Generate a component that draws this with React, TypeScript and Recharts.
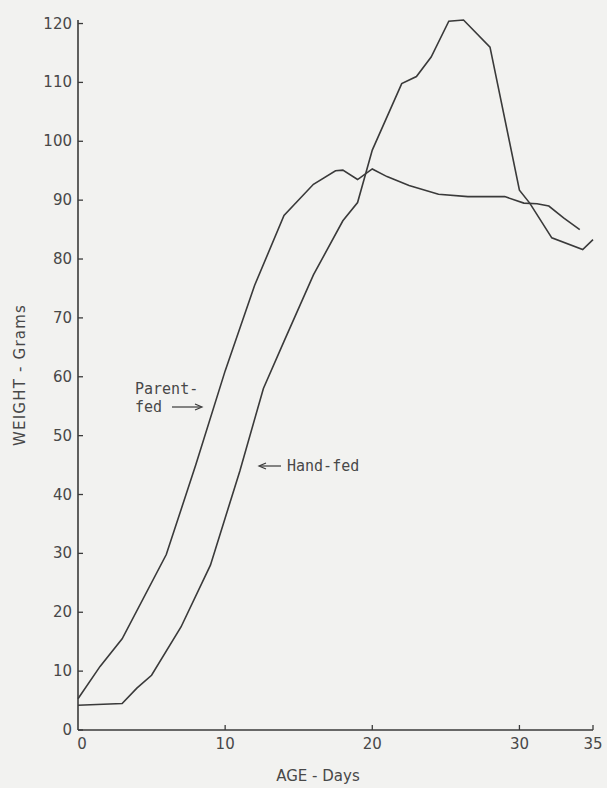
import React from "react";
import { LineChart, Line, XAxis, YAxis, Customized } from "recharts";

const parentDays = [0, 1.5, 3, 6, 8, 10, 12, 14, 16, 17.5, 18, 19, 20, 21, 22.5, 24.5, 26.5, 29, 30.3, 31.2, 32, 33, 34.1];
const parentWeights = [5.3, 10.8, 15.5, 29.8, 45, 61, 75.5, 87.4, 92.7, 95, 95.1, 93.5, 95.3, 94, 92.5, 91, 90.6, 90.6, 89.5, 89.4, 89, 87, 85];

const handDays = [0, 3, 4, 5, 7, 9, 11, 12.6, 14, 16, 18, 19, 20, 22, 23, 24, 25.2, 26.2, 28, 30, 30.7, 32.2, 34.3, 35];
const handWeights = [4.2, 4.5, 7.1, 9.3, 17.5, 28, 44, 58, 66, 77.3, 86.5, 89.6, 98.5, 109.8, 111, 114.3, 120.4, 120.6, 116, 91.7, 89.5, 83.6, 81.6, 83.3];

const xTicks = [0, 10, 20, 30, 35];
const yTicks = [0, 10, 20, 30, 40, 50, 60, 70, 80, 90, 100, 110, 120];

const parentData = parentDays.map((d, i) => ({ day: d, w: parentWeights[i] }));
const handData = handDays.map((d, i) => ({ day: d, w: handWeights[i] }));

const INK = "#3a3a3a";
const TEXT = "#484848";
const FONT = "'DejaVu Sans', sans-serif";
const MONO = "'DejaVu Sans Mono', monospace";

const YTick = (props: any) => {
  const { x, y, payload } = props;
  return (
    <g>
      <line x1={x} y1={y} x2={x + 5} y2={y} stroke={INK} strokeWidth={1.3} />
      <text x={x - 6} y={y + 5} textAnchor="end" fontSize={15} fontFamily={FONT} fill={TEXT}>
        {payload.value}
      </text>
    </g>
  );
};

const XTick = (props: any) => {
  const { x, y, payload } = props;
  return (
    <g>
      {payload.value !== 0 && (
        <line x1={x} y1={y} x2={x} y2={y - 5} stroke={INK} strokeWidth={1.3} />
      )}
      <text x={x + (payload.value === 0 ? 4 : 0)} y={y + 19} textAnchor="middle" fontSize={15} fontFamily={FONT} fill={TEXT}>
        {payload.value}
      </text>
    </g>
  );
};

const Annotations = () => (
  <g>
    <text x={20} y={375} transform="rotate(-90 20 375)" textAnchor="middle" dominantBaseline="central" fontSize={15} letterSpacing={1.2} fontFamily={FONT} fill={TEXT}>
      WEIGHT - Grams
    </text>
    <text x={318} y={781} textAnchor="middle" fontSize={15} fontFamily={FONT} fill={TEXT}>
      AGE - Days
    </text>
    <text x={135} y={394} fontSize={15} fontFamily={MONO} fill={TEXT}>Parent-</text>
    <text x={135} y={412} fontSize={15} fontFamily={MONO} fill={TEXT}>fed</text>
    <line x1={172} y1={407} x2={201} y2={407} stroke={INK} strokeWidth={1.2} />
    <path d="M195,404 L202,407 L195,410" fill="none" stroke={INK} strokeWidth={1.2} />
    <line x1={260} y1={466} x2={281} y2={466} stroke={INK} strokeWidth={1.2} />
    <path d="M266,463 L259,466 L266,469" fill="none" stroke={INK} strokeWidth={1.2} />
    <text x={287} y={471} fontSize={15} fontFamily={MONO} fill={TEXT}>Hand-fed</text>
  </g>
);

export default function App() {
  return (
    <div style={{ position: "absolute", left: 0, top: 0, width: 607, height: 788, background: "#f2f2f0" }}>
      <LineChart width={607} height={788} margin={{ top: 20, right: 14, bottom: 0, left: 0 }}>
        <XAxis
          dataKey="day"
          type="number"
          domain={[0, 35]}
          ticks={xTicks}
          allowDuplicatedCategory={false}
          height={58}
          tickSize={0}
          tickMargin={0}
          tickLine={false}
          tick={<XTick />}
          axisLine={{ stroke: INK, strokeWidth: 1.6 }}
          interval={0}
        />
        <YAxis
          type="number"
          domain={[0, 120]}
          ticks={yTicks}
          width={78}
          tickSize={0}
          tickMargin={0}
          tickLine={false}
          tick={<YTick />}
          axisLine={{ stroke: INK, strokeWidth: 1.6 }}
          interval={0}
        />
        <Line data={parentData} dataKey="w" type="linear" stroke={INK} strokeWidth={1.6} dot={false} isAnimationActive={false} />
        <Line data={handData} dataKey="w" type="linear" stroke={INK} strokeWidth={1.6} dot={false} isAnimationActive={false} />
        <Customized component={Annotations} />
      </LineChart>
    </div>
  );
}
